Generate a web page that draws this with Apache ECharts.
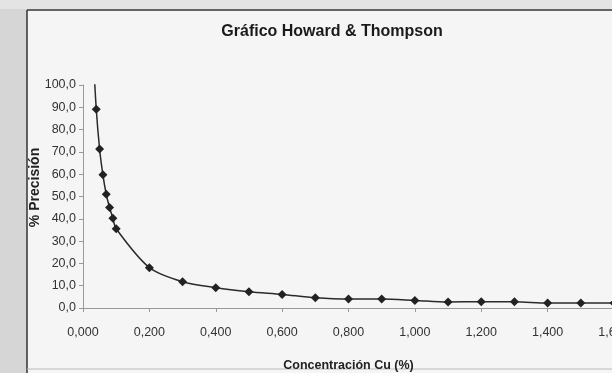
<!DOCTYPE html>
<html>
<head>
<meta charset="utf-8">
<script src="https://cdn.jsdelivr.net/npm/echarts@6/dist/echarts.min.js"></script>
<style>
html,body{margin:0;padding:0;background:#f5f5f5;}
#c{width:612px;height:373px;}
</style>
</head>
<body>
<div id="c"></div>
<script>
// Data
var concentracion = [0.03, 0.04, 0.05, 0.06, 0.07, 0.08, 0.09, 0.10, 0.20, 0.30, 0.40, 0.50, 0.60, 0.70, 0.80, 0.90, 1.00, 1.10, 1.20, 1.30, 1.40, 1.50, 1.60];
var precision = [116, 89.1, 71.3, 59.7, 51.0, 45.1, 40.3, 35.5, 18.1, 11.8, 9.1, 7.3, 6.1, 4.6, 4.0, 4.0, 3.4, 2.7, 2.8, 2.8, 2.2, 2.2, 2.2];
var titleText = 'Gráfico Howard & Thompson';
var xName = 'Concentración Cu (%)';
var yName = '% Precisión';

var font = "'Liberation Sans', Arial, sans-serif";
var pts = concentracion.map(function (x, i) { return [x, precision[i]]; });

var chart = echarts.init(document.getElementById('c'), null, {renderer: 'canvas'});
chart.setOption({
  backgroundColor: '#f5f5f5',
  animation: false,
  graphic: [
    {type: 'rect', shape: {x: 0, y: 0, width: 27, height: 373}, style: {fill: '#d6d6d6'}, z: -1},
    {type: 'rect', shape: {x: 0, y: 0, width: 612, height: 9}, style: {fill: '#e4e4e4'}, z: -1},
    {type: 'line', shape: {x1: 27, y1: 10, x2: 612, y2: 10}, style: {stroke: '#333', lineWidth: 1.5}},
    {type: 'line', shape: {x1: 27, y1: 10, x2: 27, y2: 373}, style: {stroke: '#333', lineWidth: 1.5}},
    {type: 'line', shape: {x1: 27, y1: 369, x2: 612, y2: 369}, style: {stroke: '#bbb', lineWidth: 1}}
  ],
  title: {
    text: titleText,
    left: 327, top: 19, textAlign: 'center',
    textStyle: {fontFamily: font, fontSize: 16, fontWeight: 'bold', color: '#1a1a1a'}
  },
  grid: {left: 83, right: -2, top: 85, bottom: 65, containLabel: false, outerBoundsMode: 'none'},
  xAxis: {
    type: 'value', min: 0, max: 1.6, interval: 0.2,
    name: xName, nameLocation: 'middle', nameGap: 51,
    nameTextStyle: {fontFamily: font, fontSize: 12.5, fontWeight: 'bold', color: '#222'},
    axisLine: {lineStyle: {color: '#999', width: 1}},
    axisTick: {show: true, length: 4, lineStyle: {color: '#999'}},
    splitLine: {show: false},
    axisLabel: {
      margin: 18, fontFamily: font, fontSize: 12.5, color: '#333',
      formatter: function (v) { return v.toFixed(3).replace('.', ','); }
    }
  },
  yAxis: {
    type: 'value', min: 0, max: 100, interval: 10,
    name: yName, nameLocation: 'middle', nameGap: 41, nameRotate: 90, nameMoveOverlap: false,
    nameTextStyle: {fontFamily: font, fontSize: 14, fontWeight: 'bold', color: '#222', padding: [0, 0, 0, 18]},
    axisLine: {show: true, lineStyle: {color: '#999', width: 1}},
    axisTick: {show: true, length: 4, lineStyle: {color: '#999'}},
    splitLine: {show: false},
    axisLabel: {
      margin: 7, fontFamily: font, fontSize: 12.5, color: '#333',
      formatter: function (v) { return v.toFixed(1).replace('.', ','); }
    }
  },
  series: [{
    type: 'line',
    data: pts,
    smooth: 0.3,
    clip: true,
    symbol: 'diamond',
    symbolSize: 9,
    itemStyle: {color: '#222'},
    lineStyle: {color: '#2a2a2a', width: 1.5}
  }]
});
</script>
</body>
</html>
